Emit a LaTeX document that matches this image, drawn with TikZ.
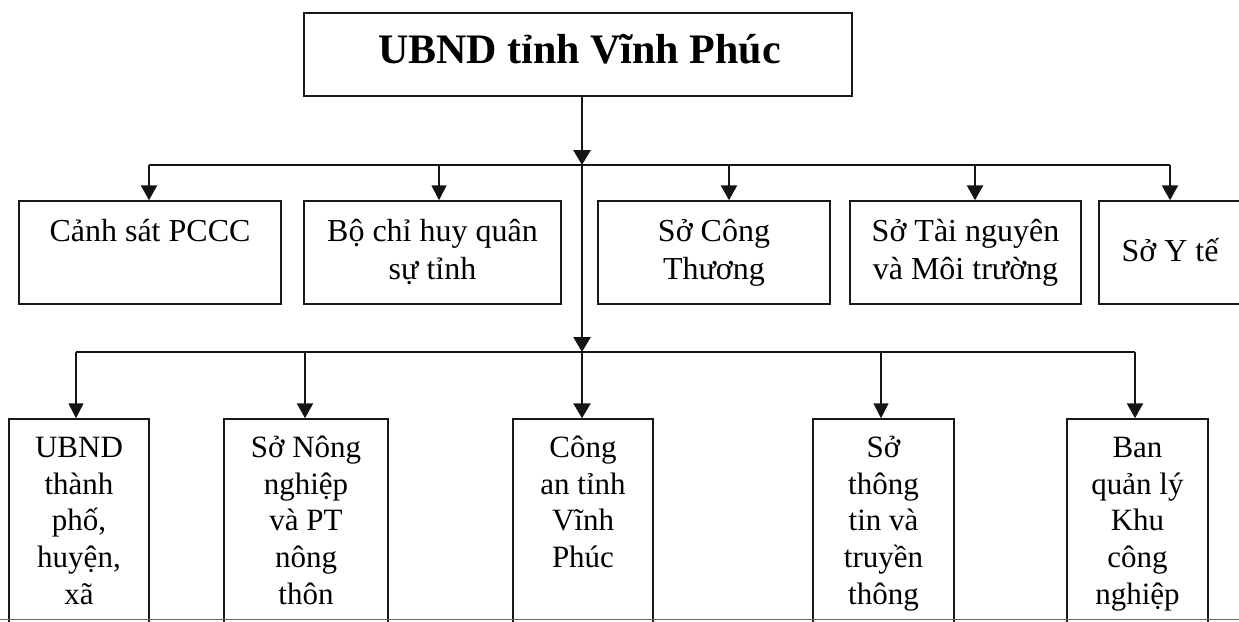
\documentclass[tikz,border=0pt]{standalone}
\usepackage{fontspec}
\setmainfont{Liberation Serif}
\usetikzlibrary{arrows.meta,calc}
\begin{document}
\begin{tikzpicture}[x=1pt,y=-1pt,
  box/.style={draw=black!90,line width=1.5pt,rectangle,inner sep=0pt},
  lbl/.style={inner sep=0pt,align=center,font=\fontsize{32}{38}\selectfont},
  lblb/.style={inner sep=0pt,align=center,font=\fontsize{31}{36.7}\selectfont},
  title/.style={inner sep=0pt,font=\fontsize{42}{50}\selectfont\bfseries},
  trunk/.style={line width=2.8pt,black!92,-{Triangle[length=15pt,width=17pt]}},
  arrthick/.style={line width=2.6pt,black!92,-{Triangle[length=15pt,width=16pt]}},
  arrthin/.style={line width=1.6pt,black!92,-{Triangle[length=15pt,width=15pt]}},
  hline/.style={line width=2pt,black!92},
  edgeline/.style={line width=1.2pt,black!60}]
\useasboundingbox (0,0) rectangle (1239,621);
\clip (0,0) rectangle (1239,621);
% top box
\node[box,minimum width=548pt,minimum height=83pt] (top) at (578,54.5) {};
\node[title,anchor=base] (toptxt) at (579.5,63) {UBND tỉnh Vĩnh Phúc};
% top row boxes
\node[box,minimum width=262pt,minimum height=103pt] (t1) at (150,252.5) {};
\node[box,minimum width=257pt,minimum height=103pt] (t2) at (432.5,252.5) {};
\node[box,minimum width=232pt,minimum height=103pt] (t3) at (714,252.5) {};
\node[box,minimum width=231pt,minimum height=103pt] (t4) at (965.5,252.5) {};
\node[box,minimum width=142pt,minimum height=103pt] (t5) at (1170,252.5) {};
\node[lbl,anchor=north] (t1txt) at ([yshift=-9pt]t1.north) {\rule{0pt}{32pt}Cảnh sát PCCC};
\node[lbl,anchor=north] (t2txt) at ([yshift=-9pt]t2.north) {\rule{0pt}{32pt}Bộ chỉ huy quân\\sự tỉnh};
\node[lbl,anchor=north] (t3txt) at ([yshift=-9pt]t3.north) {\rule{0pt}{32pt}Sở Công\\Thương};
\node[lbl,anchor=north] (t4txt) at ([yshift=-9pt]t4.north) {\rule{0pt}{32pt}Sở Tài nguyên\\và Môi trường};
\node[lbl,anchor=north] (t5txt) at ([yshift=-29pt]t5.north) {\rule{0pt}{32pt}Sở Y tế};
% bottom row boxes
\node[box,minimum width=140pt,minimum height=230pt] (b1) at (79,534) {};
\node[box,minimum width=164pt,minimum height=230pt] (b2) at (306,534) {};
\node[box,minimum width=140pt,minimum height=230pt] (b3) at (583,534) {};
\node[box,minimum width=141pt,minimum height=230pt] (b4) at (883.5,534) {};
\node[box,minimum width=141pt,minimum height=230pt] (b5) at (1137.5,534) {};
\node[lblb,anchor=north] (b1txt) at ([yshift=-7pt]b1.north) {\rule{0pt}{32pt}UBND\\thành\\phố,\\huyện,\\xã};
\node[lblb,anchor=north] (b2txt) at ([yshift=-7pt]b2.north) {\rule{0pt}{32pt}Sở Nông\\nghiệp\\và PT\\nông\\thôn};
\node[lblb,anchor=north] (b3txt) at ([yshift=-7pt]b3.north) {\rule{0pt}{32pt}Công\\an tỉnh\\Vĩnh\\Phúc};
\node[lblb,anchor=north] (b4txt) at ([yshift=-7pt]b4.north) {\rule{0pt}{32pt}Sở\\thông\\tin và\\truyền\\thông};
\node[lblb,anchor=north] (b5txt) at ([yshift=-7pt]b5.north) {\rule{0pt}{32pt}Ban\\quản lý\\Khu\\công\\nghiệp};
% junctions and arrow targets
\coordinate (j1) at (582,165);
\coordinate (j2) at (582,352);
\coordinate (t1a) at ([xshift=-1pt]t1.north);
\coordinate (t2a) at ([xshift=6.5pt]t2.north);
\coordinate (t3a) at ([xshift=15pt]t3.north);
\coordinate (t4a) at ([xshift=9.5pt]t4.north);
\coordinate (t5a) at (t5.north);
\coordinate (b1a) at ([xshift=-3pt]b1.north);
\coordinate (b2a) at ([xshift=-1pt]b2.north);
\coordinate (b4a) at ([xshift=-2.5pt]b4.north);
\coordinate (b5a) at ([xshift=-2.5pt]b5.north);
% horizontal bars
\draw[hline] (j1 -| t1a) -- (j1 -| t5a);
\draw[hline] (j2 -| b1a) -- (j2 -| b5a);
% trunk
\draw[trunk] (top.south -| j1) -- (j1);
\draw[trunk] (j1) -- (j2);
\draw[trunk] (j2) -- (j2 |- b3.north);
% top branches
\draw[arrthick] (j1 -| t1a) -- (t1a);
\draw[arrthin] (j1 -| t2a) -- (t2a);
\draw[arrthick] (j1 -| t3a) -- (t3a);
\draw[arrthick] (j1 -| t4a) -- (t4a);
\draw[arrthick] (j1 -| t5a) -- (t5a);
% bottom branches
\draw[arrthin] (j2 -| b1a) -- (b1a);
\draw[arrthick] (j2 -| b2a) -- (b2a);
\draw[arrthin] (j2 -| b4a) -- (b4a);
\draw[arrthick] (j2 -| b5a) -- (b5a);
% bottom edge line
\draw[edgeline] (0,619.6) -- (1239,619.6);
\end{tikzpicture}
\end{document}
